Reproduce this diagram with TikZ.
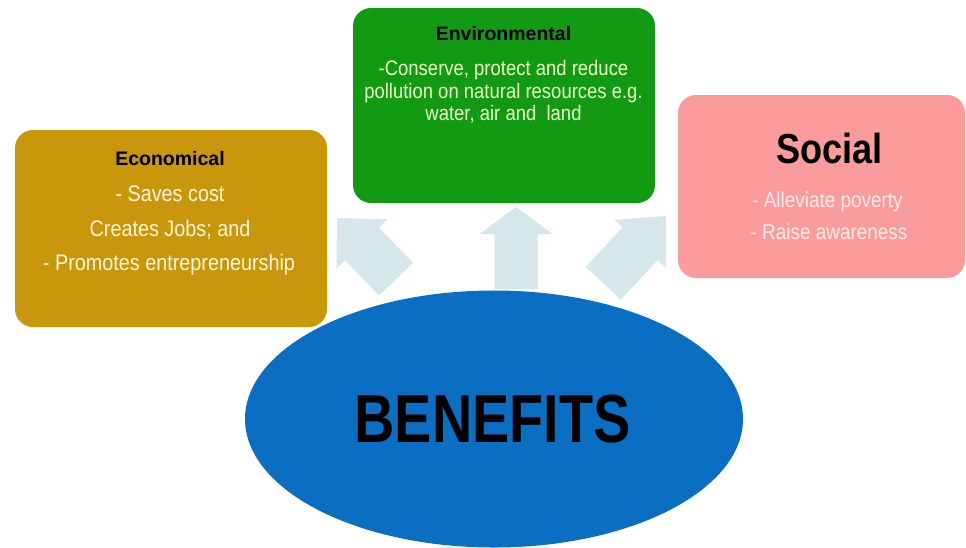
\documentclass[tikz,border=0pt]{standalone}
\usepackage{fontspec}
\usetikzlibrary{shapes.geometric}
\setmainfont{Liberation Sans}
\newfontfamily\bodyfont{Liberation Sans}[FakeStretch=0.88]
\newfontfamily\bigfont{Liberation Sans}[FakeStretch=0.82]
\newfontfamily\socfont{Liberation Sans}[FakeStretch=0.86]
\definecolor{goldbox}{HTML}{C9970C}
\definecolor{greenbox}{HTML}{139A13}
\definecolor{pinkbox}{HTML}{FB9C9C}
\definecolor{bluebox}{HTML}{0A6FC2}
\definecolor{arrowfill}{HTML}{D6E7EC}
\definecolor{goldtext}{HTML}{FFF4D8}
\definecolor{greentext}{HTML}{EAFFC8}
\definecolor{pinktext}{HTML}{FFEAEA}
\begin{document}
\begin{tikzpicture}[x=1pt,y=-1pt,
  panel/.style={rectangle, rounded corners=18pt, inner sep=0pt, draw=none},
  txt/.style={inner sep=0pt, anchor=base},
  blk/.style={fill=arrowfill},
  ttl/.style={txt, font=\fontsize{19.5}{22}\selectfont\bfseries, text=black}]
\useasboundingbox (0,0) rectangle (966,547);
\fill[white] (0,0) rectangle (966,547);

% block arrows
\fill[blk, shift={(337,218)}, rotate=134]
  (0,0) -- (-36,35.5) -- (-36,23.5) -- (-85,23.5) -- (-85,-23.5) -- (-36,-23.5) -- (-36,-35.5) -- cycle;
\fill[blk, shift={(516,207)}, rotate=90]
  (0,0) -- (-27,36.5) -- (-27,21.5) -- (-82,21.5) -- (-82,-21.5) -- (-27,-21.5) -- (-27,-36.5) -- cycle;
\fill[blk, shift={(666,216)}, rotate=47]
  (0,0) -- (-38,35) -- (-38,24) -- (-92,24) -- (-92,-24) -- (-38,-24) -- (-38,-35) -- cycle;

% ellipse
\node[ellipse, fill=bluebox, inner sep=0pt, minimum width=498pt, minimum height=257pt] (ben) at (494,419) {};
\node[txt, font=\bigfont\fontsize{68}{70}\selectfont\bfseries, text=black] (bent) at (492.5,442) {BENEFITS};

% panels
\node[panel, fill=goldbox, minimum width=312pt, minimum height=197pt] (econ) at (171,228.5) {};
\node[panel, fill=greenbox, minimum width=302pt, minimum height=195pt] (env) at (504,105.5) {};
\node[panel, fill=pinkbox, minimum width=287pt, minimum height=183pt] (soc) at (821.5,186.5) {};

% economical text
\node[ttl] (econt) at (170,165.7) {Economical};
\begin{scope}[every node/.style={txt, font=\bodyfont\fontsize{22.5}{24}\selectfont, text=goldtext}]
\node (econa) at (170,201) {- Saves cost};
\node (econb) at (170,236.5) {Creates Jobs; and};
\node (econc) at (169,270) {- Promotes entrepreneurship};
\end{scope}

% environmental text
\node[ttl] (envt) at (503.5,40.7) {Environmental};
\begin{scope}[every node/.style={txt, font=\bodyfont\fontsize{21}{23}\selectfont, text=greentext}]
\node (enva) at (503.5,75) {-Conserve, protect and reduce};
\node (envb) at (503.5,98) {pollution on natural resources e.g.};
\node (envc) at (503.5,120.5) {water, air and\ \ land};
\end{scope}

% social text
\node[txt, font=\socfont\fontsize{42}{44}\selectfont\bfseries, text=black] (soct) at (829.5,163) {Social};
\begin{scope}[every node/.style={txt, font=\bodyfont\fontsize{21.5}{23}\selectfont, text=pinktext}]
\node (soca) at (827.5,207) {- Alleviate poverty};
\node (socb) at (829,239) {- Raise awareness};
\end{scope}
\end{tikzpicture}
\end{document}
